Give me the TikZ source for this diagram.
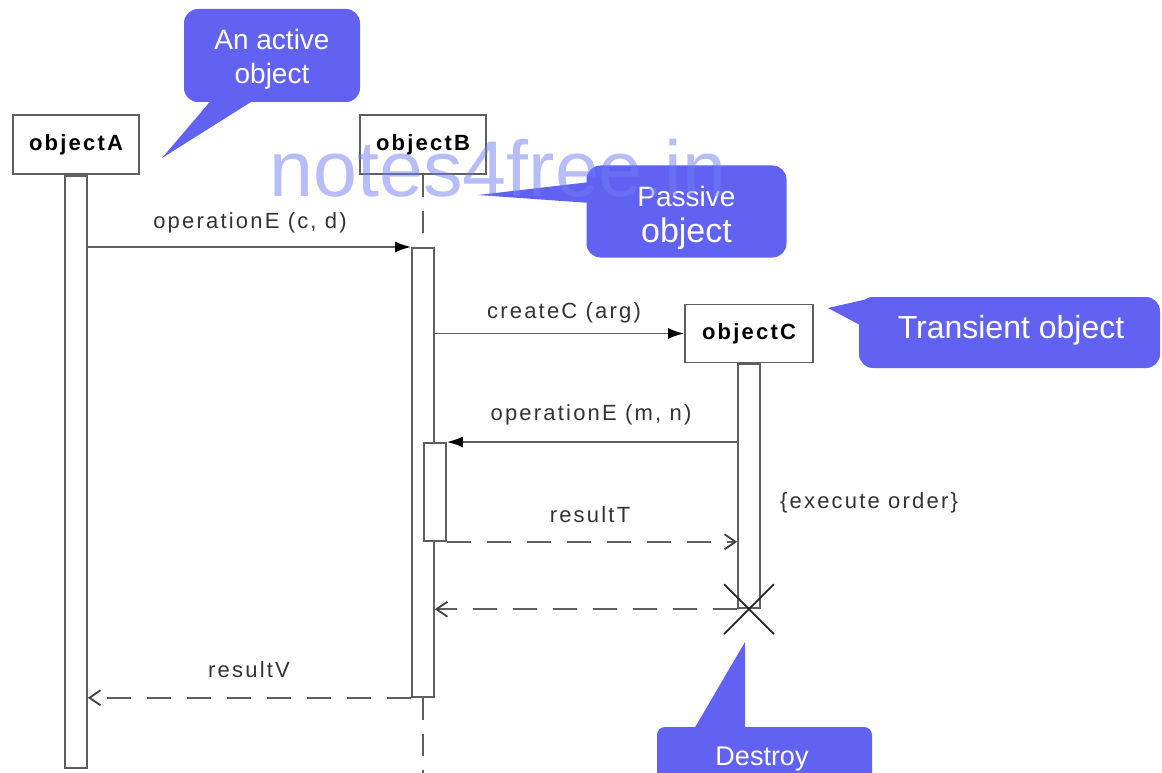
\documentclass[tikz,border=0pt]{standalone}
\usepackage{fontspec}
\usepackage{xcolor}
\usepackage{tikz}
\usetikzlibrary{positioning,shapes.misc,arrows.meta,calc}
\setmainfont{Liberation Sans}
\newfontfamily\umlfont[LetterSpace=10]{Liberation Sans}
\definecolor{umlgray}{RGB}{95,95,95}
\definecolor{noteblue}{RGB}{98,98,242}
\definecolor{markblue}{RGB}{110,125,245}

\begin{document}
\begin{tikzpicture}[x=1pt, y=-1pt,
    objbox/.style={draw=umlgray, line width=1.8pt, fill=white, minimum width=126pt, minimum height=59pt, font=\umlfont\fontsize{22}{26}\selectfont\bfseries},
    actbar/.style={draw=umlgray, line width=1.8pt, fill=white, minimum width=22pt, inner sep=0pt},
    msg/.style={font=\umlfont\fontsize{22}{26}\selectfont, text=black!80, inner sep=0pt},
    call/.style={draw=umlgray, line width=1.8pt, -{Latex[length=16pt, width=11pt, color=black]}},
    reply/.style={draw=umlgray, line width=1.8pt, dash pattern=on 24pt off 16pt, -{Straight Barb[length=11pt, width=15pt, color=black!75]}},
    lifeline/.style={draw=umlgray, line width=1.8pt, dash pattern=on 22pt off 14pt},
    notebox/.style={fill=noteblue, rounded corners=14pt, inner sep=0pt},
    notetext/.style={text=white, align=center, inner sep=0pt},
    notetip/.style={fill=noteblue}]

    \useasboundingbox (0,0) rectangle (1162,773);
    \clip (0,0) rectangle (1162,773);
    \fill[white] (0,0) rectangle (1162,773);

    \node[objbox] (objA) at (76,144.5) {objectA};
    \node[objbox] (objB) at (423,144.5) {objectB};
    \node[objbox, minimum width=128pt, minimum height=58pt] (objC) at (749,333.5) {objectC};

    \node[actbar, anchor=north, minimum height=592pt] (barA) at (objA.south) {};
    \node[actbar, anchor=north, minimum height=449pt] (barB) at (423,247) {};
    \node[actbar, anchor=north west, minimum height=98pt] (barB2) at (423,442) {};
    \node[actbar, anchor=north, minimum height=244pt] (barC) at (objC.south) {};

    \draw[lifeline] (objB.south) -- (barB.north);
    \draw[lifeline] (barB.south) -- ++(0,80);

    \draw[call] (barA.east |- barB.north) -- (barB.north west);
    \node[msg] (lblCD) at (250,223) {operationE (c, d)};

    \draw[call] (barB.east |- objC.west) -- (objC.west);
    \node[msg] (lblCreate) at (564,313) {createC (arg)};

    \draw[call] (barC.west |- barB2.north) -- (barB2.north east);
    \node[msg] (lblMN) at (591,415) {operationE (m, n)};

    \draw[reply] (barB2.south east) -- (barB2.south east -| barC.west);
    \node[msg] (lblT) at (590,515) {resultT};

    \node[msg] (lblOrder) at (869,503) {\{execute order\}};

    \node[draw=black!85, cross out, line width=1.8pt, minimum size=48pt] (destroyX) at (barC.south) {};
    \draw[reply] (barC.south west) -- (barC.south west -| barB.east);

    \draw[reply] (barB.south west) -- (barB.south west -| barA.east);
    \node[msg] (lblV) at (249,670) {resultV};

    \node[notebox, minimum width=176pt, minimum height=93pt] (noteActive) at (272,55.5) {};
    \node[notetext, font=\fontsize{28}{34}\selectfont] (txtActive) at (272,59) {An active\\object};
    \coordinate (tipActive) at (162,158);
    \fill[notetip] ($(noteActive.south)+(-59,-4)$) -- (tipActive) -- ($(noteActive.south)+(-15,-4)$) -- cycle;

    \node[notebox, minimum width=200pt, minimum height=92pt] (notePassive) at (686.5,211.5) {};
    \node[notetext] (txtPassive) at (686.5,218) {\fontsize{28}{30}\selectfont Passive\\[10pt]\fontsize{34}{36}\selectfont object};
    \coordinate (tipPassive) at (478,195);
    \fill[notetip] ($(notePassive.west)+(4,-29.5)$) -- (tipPassive) -- ($(notePassive.west)+(4,-8.5)$) -- cycle;

    \node[notebox, minimum width=301pt, minimum height=71pt] (noteTransient) at (1009.5,332.5) {};
    \node[notetext, font=\fontsize{32}{36}\selectfont] (txtTransient) at (1011,330) {Transient object};
    \coordinate (tipTransient) at (828,308);
    \fill[notetip] ($(noteTransient.west)+(13,-34.5)$) -- (tipTransient) -- ($(noteTransient.west)+(3,-6.5)$) -- cycle;

    \node[notebox, rounded corners=8pt, minimum width=215pt, minimum height=66pt] (noteDestroy) at (764.5,760) {};
    \node[notetext, font=\fontsize{27}{30}\selectfont] (txtDestroy) at (762,759) {Destroy};
    \coordinate (tipDestroy) at (745,642);
    \fill[notetip] ($(noteDestroy.north)+(-71.5,4)$) -- (tipDestroy) -- ($(noteDestroy.north)+(-19.5,4)$) -- cycle;

    \node[font=\fontsize{79}{80}\selectfont, text=markblue, text opacity=0.5, anchor=base] (mark) at (498,196) {notes4free.in};
\end{tikzpicture}
\end{document}
